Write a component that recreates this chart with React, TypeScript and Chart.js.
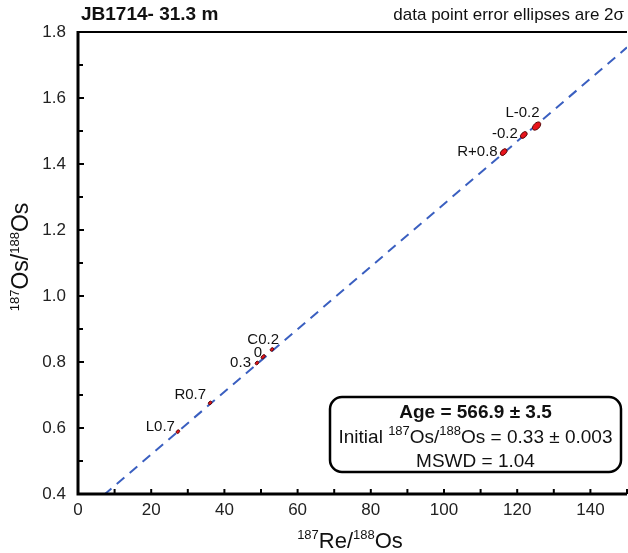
import React, { useEffect, useRef } from "react";
import { Chart, registerables } from "chart.js";

Chart.register(...registerables);

// ---- data ----
const pointLabels = ["L-0.2", "-0.2", "R+0.8", "C0.2", "0", "0.3", "R0.7", "L0.7"];
const reOs = [125.3, 121.8, 116.3, 53.0, 50.6, 48.9, 36.1, 27.3];
const osOs = [1.515, 1.488, 1.436, 0.838, 0.816, 0.797, 0.676, 0.589];
const isoX = [0, 150];
const isoY = [0.33, 1.7534];
const xTicks = [0, 20, 40, 60, 80, 100, 120, 140];
const yTicks = [0.4, 0.6, 0.8, 1.0, 1.2, 1.4, 1.6, 1.8];

// ---- styles (pixel sizes of ellipses, label offsets) ----
const ellipseRx = [5, 4, 4, 2, 2.5, 2, 2, 2];
const ellipseRy = [3, 2.5, 2.5, 1.5, 1.5, 1.5, 1.5, 1.5];
const labelDx = [3, -6, -6, 7, -1, -6, -4, -3];
const labelDy = [-13, -1, 0, -10, -4, 0, -8, -5];

const FONT = "'Liberation Sans', Arial, sans-serif";

type Part = { t: string; size: number; bold?: boolean; dy?: number };

function richWidth(ctx: CanvasRenderingContext2D, parts: Part[]) {
  let w = 0;
  for (const p of parts) {
    ctx.font = `${p.bold ? "bold " : ""}${p.size}px ${FONT}`;
    w += ctx.measureText(p.t).width;
  }
  return w;
}

function drawRich(ctx: CanvasRenderingContext2D, parts: Part[], cx: number, y: number) {
  const w = richWidth(ctx, parts);
  let x = cx - w / 2;
  ctx.textAlign = "left";
  ctx.textBaseline = "alphabetic";
  for (const p of parts) {
    ctx.font = `${p.bold ? "bold " : ""}${p.size}px ${FONT}`;
    ctx.fillText(p.t, x, y + (p.dy || 0));
    x += ctx.measureText(p.t).width;
  }
}

const overlay = {
  id: "overlay",
  afterDraw(chart: any) {
    const ctx: CanvasRenderingContext2D = chart.ctx;
    const { left, right, top, bottom } = chart.chartArea;
    const xs = chart.scales.x;
    const ys = chart.scales.y;
    ctx.save();

    // ellipses
    for (let i = 0; i < reOs.length; i++) {
      const px = xs.getPixelForValue(reOs[i]);
      const py = ys.getPixelForValue(osOs[i]);
      ctx.beginPath();
      ctx.ellipse(px, py, ellipseRx[i], ellipseRy[i], -Math.PI / 4, 0, Math.PI * 2);
      ctx.fillStyle = "#e8141c";
      ctx.fill();
      ctx.lineWidth = 1;
      ctx.strokeStyle = "#5a0a0a";
      ctx.stroke();
      ctx.fillStyle = "#111";
      ctx.font = `15px ${FONT}`;
      ctx.textAlign = "right";
      ctx.textBaseline = "middle";
      ctx.fillText(pointLabels[i], px + labelDx[i], py + labelDy[i]);
    }

    // axes frame
    ctx.strokeStyle = "#000";
    ctx.lineWidth = 2;
    ctx.beginPath();
    ctx.moveTo(left, top);
    ctx.lineTo(right, top);
    ctx.stroke();
    ctx.lineWidth = 3;
    ctx.beginPath();
    ctx.moveTo(left, top - 1);
    ctx.lineTo(left, bottom);
    ctx.lineTo(right, bottom);
    ctx.stroke();

    // inward ticks
    ctx.lineWidth = 2;
    for (let v = 10; v <= 150; v += 10) {
      const px = xs.getPixelForValue(v);
      ctx.beginPath();
      ctx.moveTo(px, bottom);
      ctx.lineTo(px, bottom - 5);
      ctx.stroke();
    }
    for (let k = 5; k <= 18; k++) {
      const v = k / 10;
      const py = ys.getPixelForValue(v);
      const len = k % 2 === 0 ? 6 : 5;
      ctx.beginPath();
      ctx.moveTo(left, py);
      ctx.lineTo(left + len, py);
      ctx.stroke();
    }

    // title texts
    ctx.fillStyle = "#111";
    ctx.textBaseline = "alphabetic";
    ctx.textAlign = "left";
    ctx.font = `bold 19px ${FONT}`;
    ctx.fillText("JB1714- 31.3 m", 81, 20);
    ctx.textAlign = "right";
    ctx.font = `17px ${FONT}`;
    ctx.fillText("data point error ellipses are 2σ", 624, 20);

    // axis titles
    drawRich(
      ctx,
      [
        { t: "187", size: 13, dy: -9 },
        { t: "Re/", size: 22 },
        { t: "188", size: 13, dy: -9 },
        { t: "Os", size: 22 },
      ],
      350,
      548
    );
    ctx.save();
    ctx.translate(28, 257);
    ctx.rotate(-Math.PI / 2);
    drawRich(
      ctx,
      [
        { t: "187", size: 13, dy: -9 },
        { t: "Os/", size: 23 },
        { t: "188", size: 13, dy: -9 },
        { t: "Os", size: 23 },
      ],
      0,
      0
    );
    ctx.restore();

    // result box
    const bx = 330, by = 397, bw = 291, bh = 75;
    ctx.beginPath();
    ctx.roundRect(bx, by, bw, bh, 12);
    ctx.fillStyle = "#fff";
    ctx.fill();
    ctx.lineWidth = 2.5;
    ctx.strokeStyle = "#000";
    ctx.stroke();
    ctx.fillStyle = "#111";
    const cx = bx + bw / 2;
    drawRich(ctx, [{ t: "Age = 566.9 ± 3.5", size: 19, bold: true }], cx, 418);
    drawRich(
      ctx,
      [
        { t: "Initial ", size: 19 },
        { t: "187", size: 13, dy: -8 },
        { t: "Os/", size: 19 },
        { t: "188", size: 13, dy: -8 },
        { t: "Os = 0.33 ± 0.003", size: 19 },
      ],
      cx,
      443
    );
    drawRich(ctx, [{ t: "MSWD = 1.04", size: 19 }], cx, 467);

    ctx.restore();
  },
};

export default function App() {
  const ref = useRef<HTMLCanvasElement | null>(null);
  useEffect(() => {
    if (!ref.current) return;
    const chart = new Chart(ref.current, {
      type: "scatter",
      data: {
        datasets: [
          {
            label: "isochron",
            data: isoX.map((x, i) => ({ x, y: isoY[i] })),
            showLine: true,
            borderColor: "#3a5fc0",
            borderWidth: 2,
            borderDash: [10, 7],
            pointRadius: 0,
          },
        ],
      },
      options: {
        responsive: false,
        animation: false,
        layout: { padding: { top: 32, left: 0, right: 1, bottom: 0 } },
        plugins: { legend: { display: false }, tooltip: { enabled: false } },
        scales: {
          x: {
            type: "linear",
            min: 0,
            max: 150,
            afterFit: (s: any) => {
              s.height = 59;
            },
            afterBuildTicks: (s: any) => {
              s.ticks = xTicks.map((v) => ({ value: v }));
            },
            grid: { display: false, drawTicks: false },
            border: { display: false },
            ticks: { padding: 6, color: "#222", font: { family: FONT, size: 17 } },
          },
          y: {
            type: "linear",
            min: 0.4,
            max: 1.8,
            afterFit: (s: any) => {
              s.width = 78;
            },
            afterBuildTicks: (s: any) => {
              s.ticks = yTicks.map((v) => ({ value: v }));
            },
            grid: { display: false, drawTicks: false },
            border: { display: false },
            ticks: {
              padding: 12,
              color: "#222",
              font: { family: FONT, size: 17 },
              callback: (v: any) => Number(v).toFixed(1),
            },
          },
        },
      },
      plugins: [overlay],
    });
    return () => chart.destroy();
  }, []);
  return (
    <div style={{ position: "absolute", left: 0, top: 0, width: 628, height: 553 }}>
      <canvas ref={ref} width={628} height={553} />
    </div>
  );
}
